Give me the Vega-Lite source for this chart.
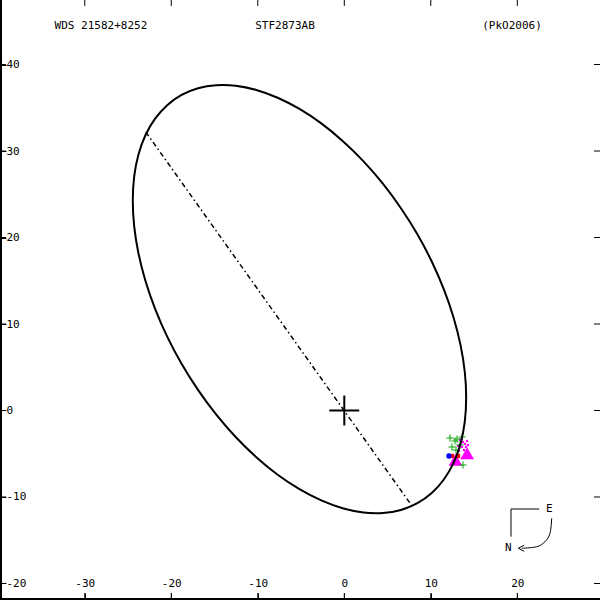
{
  "$schema": "https://vega.github.io/schema/vega-lite/v6.json",
  "width": 600,
  "height": 600,
  "autosize": {"type": "none"},
  "padding": 0,
  "background": "white",
  "config": {
    "view": {"stroke": null},
    "axis": {"grid": false, "domain": false, "ticks": true, "zindex": 1, "labelFont": "DejaVu Sans Mono", "labelFontSize": 11, "labelColor": "black", "tickColor": "#000000", "tickWidth": 1, "tickOpacity": 1, "labelFlush": false, "labelOverlap": false, "title": null}
  },
  "datasets": {
    "orbit": [
      {"i": 1, "x": 14.09, "y": 1.49}, {"i": 2, "x": 13.93, "y": 4.45}, {"i": 3, "x": 13.44, "y": 7.56},
      {"i": 4, "x": 12.63, "y": 10.76}, {"i": 5, "x": 11.51, "y": 14.0}, {"i": 6, "x": 10.11, "y": 17.22},
      {"i": 7, "x": 8.45, "y": 20.37}, {"i": 8, "x": 6.55, "y": 23.38}, {"i": 9, "x": 4.46, "y": 26.22},
      {"i": 10, "x": 2.2, "y": 28.83}, {"i": 11, "x": -0.19, "y": 31.16}, {"i": 12, "x": -2.66, "y": 33.19},
      {"i": 13, "x": -5.18, "y": 34.86}, {"i": 14, "x": -7.7, "y": 36.16}, {"i": 15, "x": -10.17, "y": 37.06},
      {"i": 16, "x": -12.56, "y": 37.55}, {"i": 17, "x": -14.82, "y": 37.61}, {"i": 18, "x": -16.91, "y": 37.26},
      {"i": 19, "x": -18.81, "y": 36.48}, {"i": 20, "x": -20.47, "y": 35.3}, {"i": 21, "x": -21.87, "y": 33.74},
      {"i": 22, "x": -22.99, "y": 31.82}, {"i": 23, "x": -23.8, "y": 29.58}, {"i": 24, "x": -24.29, "y": 27.05},
      {"i": 25, "x": -24.45, "y": 24.28}, {"i": 26, "x": -24.29, "y": 21.31}, {"i": 27, "x": -23.8, "y": 18.2},
      {"i": 28, "x": -22.99, "y": 15.0}, {"i": 29, "x": -21.87, "y": 11.76}, {"i": 30, "x": -20.47, "y": 8.54},
      {"i": 31, "x": -18.81, "y": 5.4}, {"i": 32, "x": -16.91, "y": 2.38}, {"i": 33, "x": -14.82, "y": -0.46},
      {"i": 34, "x": -12.56, "y": -3.07}, {"i": 35, "x": -10.17, "y": -5.4}, {"i": 36, "x": -7.7, "y": -7.43},
      {"i": 37, "x": -5.18, "y": -9.1}, {"i": 38, "x": -2.66, "y": -10.4}, {"i": 39, "x": -0.19, "y": -11.3},
      {"i": 40, "x": 2.2, "y": -11.79}, {"i": 41, "x": 4.46, "y": -11.85}, {"i": 42, "x": 6.55, "y": -11.5},
      {"i": 43, "x": 8.45, "y": -10.72}, {"i": 44, "x": 10.11, "y": -9.54}, {"i": 45, "x": 11.51, "y": -7.98},
      {"i": 46, "x": 12.63, "y": -6.06}, {"i": 47, "x": 13.44, "y": -3.82}, {"i": 48, "x": 13.93, "y": -1.29}
    ],
    "node": [{"x": -22.95, "y": 32.2}, {"x": 7.83, "y": -11.04}],
    "cross": [{"x": -1.73, "x2": 1.73, "y": 0, "y2": 0}, {"x": 0, "x2": 0, "y": -1.73, "y2": 1.73}],
    "ticks": [
      {"o": "x", "v": -30}, {"o": "x", "v": -20}, {"o": "x", "v": -10}, {"o": "x", "v": 0}, {"o": "x", "v": 10}, {"o": "x", "v": 20},
      {"o": "y", "v": -20}, {"o": "y", "v": -10}, {"o": "y", "v": 0}, {"o": "y", "v": 10}, {"o": "y", "v": 20}, {"o": "y", "v": 30}, {"o": "y", "v": 40}
    ],
    "obs": [
      {"kind": "plus", "x": 12.22, "y": -3.18}, {"kind": "plus", "x": 12.8, "y": -3.53}, {"kind": "plus", "x": 13.03, "y": -3.29},
      {"kind": "plus", "x": 13.61, "y": -3.06}, {"kind": "plus", "x": 12.91, "y": -4.57}, {"kind": "plus", "x": 13.38, "y": -3.99},
      {"kind": "plus", "x": 13.72, "y": -6.3}, {"kind": "plus", "x": 12.45, "y": -4.22},
      {"kind": "tri", "x": 14.2, "y": -4.95}, {"kind": "tri", "x": 12.85, "y": -5.7},
      {"kind": "dot", "x": 13.38, "y": -3.41}, {"kind": "dot", "x": 13.72, "y": -3.64}, {"kind": "dot", "x": 13.95, "y": -3.87},
      {"kind": "dot", "x": 13.61, "y": -4.22}, {"kind": "dot", "x": 14.07, "y": -4.22}, {"kind": "dot", "x": 13.26, "y": -4.68},
      {"kind": "dot", "x": 13.84, "y": -4.57}, {"kind": "dot", "x": 14.18, "y": -3.53}, {"kind": "dot", "x": 13.49, "y": -3.76},
      {"kind": "dot", "x": 13.15, "y": -4.1}, {"kind": "dot", "x": 14.3, "y": -4.0}, {"kind": "dot", "x": 13.6, "y": -3.3},
      {"kind": "red", "x": 12.45, "y": -5.26}, {"kind": "red", "x": 13.15, "y": -5.26},
      {"kind": "blue", "x": 12.1, "y": -5.26}
    ],
    "compass": [{"i": 1, "x": 22.54, "y": -11.39}, {"i": 2, "x": 19.27, "y": -11.39}, {"i": 3, "x": 19.27, "y": -14.59}],
    "arc": [{"i": 1, "x": 23.98, "y": -12.46}, {"i": 2, "x": 23.78, "y": -14.2}, {"i": 3, "x": 23.2, "y": -15.17}, {"i": 4, "x": 22.24, "y": -15.75}, {"i": 5, "x": 20.51, "y": -15.93}],
    "arrow": [{"x": 20.45, "y": -15.93}],
    "texts": [
      {"t": "WDS 21582+8252", "x": -28.13, "y": 44.45},
      {"t": "STF2873AB", "x": -6.86, "y": 44.45},
      {"t": "(PkO2006)", "x": 19.39, "y": 44.45},
      {"t": "E", "x": 23.7, "y": -11.39},
      {"t": "N", "x": 18.96, "y": -15.93}
    ]
  },
  "resolve": {"axis": {"x": "independent", "y": "independent"}},
  "layer": [
    {
      "data": {"name": "obs"},
      "transform": [{"filter": "datum.kind === 'dot'"}],
      "mark": {"type": "point", "shape": "square", "filled": true, "color": "#ff00ff", "size": 5, "opacity": 1},
      "encoding": {
        "x": {"field": "x", "type": "quantitative", "scale": {"domain": [-39.8, 29.56], "nice": false, "zero": false},
              "axis": {"orient": "bottom", "values": [-30, -20, -10, 0, 10, 20], "offset": -7, "tickSize": 7, "ticks": true, "labelBaseline": "middle", "labelAlign": "center", "labelPadding": -17, "labelExpr": "'' + datum.value"}},
        "y": {"field": "y", "type": "quantitative", "scale": {"domain": [-21.91, 47.46], "nice": false, "zero": false},
              "axis": {"orient": "left", "values": [-20, -10, 0, 10, 20, 30, 40], "offset": -6, "tickSize": 6, "ticks": true, "labelBaseline": "middle", "labelAlign": "left", "labelPadding": -6, "labelExpr": "'' + datum.value"}}
      }
    },
    {
      "data": {"name": "obs"},
      "transform": [{"filter": "datum.kind === 'tri'"}],
      "mark": {"type": "point", "shape": "triangle-up", "filled": true, "color": "#ff00ff", "size": 190, "opacity": 1},
      "encoding": {
        "x": {"field": "x", "type": "quantitative", "axis": null},
        "y": {"field": "y", "type": "quantitative", "axis": null}
      }
    },
    {
      "data": {"name": "obs"},
      "transform": [{"filter": "datum.kind === 'plus'"}],
      "mark": {"type": "point", "shape": "M-1,0H1M0,-1V1", "filled": false, "stroke": "#00a000", "strokeWidth": 1, "size": 49, "opacity": 1},
      "encoding": {
        "x": {"field": "x", "type": "quantitative", "axis": null},
        "y": {"field": "y", "type": "quantitative", "axis": null}
      }
    },
    {
      "data": {"name": "obs"},
      "transform": [{"filter": "datum.kind === 'red'"}],
      "mark": {"type": "point", "shape": "square", "filled": true, "color": "#ff0000", "size": 18, "opacity": 1},
      "encoding": {
        "x": {"field": "x", "type": "quantitative", "axis": null},
        "y": {"field": "y", "type": "quantitative", "axis": null}
      }
    },
    {
      "data": {"name": "obs"},
      "transform": [{"filter": "datum.kind === 'blue'"}],
      "mark": {"type": "point", "shape": "circle", "filled": true, "color": "#0000ff", "size": 30, "opacity": 1},
      "encoding": {
        "x": {"field": "x", "type": "quantitative", "axis": null},
        "y": {"field": "y", "type": "quantitative", "axis": null}
      }
    },
    {
      "data": {"name": "orbit"},
      "mark": {"type": "line", "interpolate": "cardinal-closed", "color": "black", "strokeWidth": 2},
      "encoding": {
        "x": {"field": "x", "type": "quantitative", "axis": null},
        "y": {"field": "y", "type": "quantitative", "axis": null},
        "order": {"field": "i", "type": "quantitative"}
      }
    },
    {
      "data": {"name": "node"},
      "mark": {"type": "line", "color": "black", "strokeWidth": 1.5, "strokeDash": [5, 3, 1.5, 3]},
      "encoding": {
        "x": {"field": "x", "type": "quantitative", "axis": null},
        "y": {"field": "y", "type": "quantitative", "axis": null}
      }
    },
    {
      "data": {"name": "cross"},
      "mark": {"type": "rule", "color": "black", "strokeWidth": 2},
      "encoding": {
        "x": {"field": "x", "type": "quantitative", "axis": null},
        "x2": {"field": "x2"},
        "y": {"field": "y", "type": "quantitative", "axis": null},
        "y2": {"field": "y2"}
      }
    },
    {
      "data": {"name": "ticks"},
      "transform": [{"filter": "datum.o === 'x'"}],
      "mark": {"type": "rule", "color": "black", "strokeWidth": 1},
      "encoding": {
        "x": {"field": "v", "type": "quantitative", "axis": null},
        "y": {"datum": -21.91, "type": "quantitative", "axis": null},
        "y2": {"datum": -21.1}
      }
    },
    {
      "data": {"name": "ticks"},
      "transform": [{"filter": "datum.o === 'x'"}],
      "mark": {"type": "rule", "color": "black", "strokeWidth": 1},
      "encoding": {
        "x": {"field": "v", "type": "quantitative", "axis": null},
        "y": {"datum": 47.46, "type": "quantitative", "axis": null},
        "y2": {"datum": 46.77}
      }
    },
    {
      "data": {"name": "ticks"},
      "transform": [{"filter": "datum.o === 'y'"}],
      "mark": {"type": "rule", "color": "black", "strokeWidth": 1},
      "encoding": {
        "y": {"field": "v", "type": "quantitative", "axis": null},
        "x": {"datum": -39.8, "type": "quantitative", "axis": null},
        "x2": {"datum": -39.11}
      }
    },
    {
      "data": {"name": "ticks"},
      "transform": [{"filter": "datum.o === 'y'"}],
      "mark": {"type": "rule", "color": "black", "strokeWidth": 1},
      "encoding": {
        "y": {"field": "v", "type": "quantitative", "axis": null},
        "x": {"datum": 29.56, "type": "quantitative", "axis": null},
        "x2": {"datum": 28.87}
      }
    },
    {
      "data": {"values": [{"f": "left"}]},
      "mark": {"type": "rule", "color": "black", "strokeWidth": 4},
      "encoding": {
        "x": {"datum": -39.8, "type": "quantitative", "axis": null},
        "y": {"datum": -21.91, "type": "quantitative", "axis": null},
        "y2": {"datum": 47.46}
      }
    },
    {
      "data": {"values": [{"f": "bottom"}]},
      "mark": {"type": "rule", "color": "black", "strokeWidth": 4},
      "encoding": {
        "y": {"datum": -21.91, "type": "quantitative", "axis": null},
        "x": {"datum": -39.8, "type": "quantitative", "axis": null},
        "x2": {"datum": 29.56}
      }
    },
    {
      "data": {"name": "compass"},
      "mark": {"type": "line", "color": "black", "strokeWidth": 1},
      "encoding": {
        "x": {"field": "x", "type": "quantitative", "axis": null},
        "y": {"field": "y", "type": "quantitative", "axis": null},
        "order": {"field": "i", "type": "quantitative"}
      }
    },
    {
      "data": {"name": "arc"},
      "mark": {"type": "line", "interpolate": "cardinal", "color": "black", "strokeWidth": 1},
      "encoding": {
        "x": {"field": "x", "type": "quantitative", "axis": null},
        "y": {"field": "y", "type": "quantitative", "axis": null},
        "order": {"field": "i", "type": "quantitative"}
      }
    },
    {
      "data": {"name": "arrow"},
      "mark": {"type": "point", "shape": "M1,-1L-1,0L1,1", "filled": false, "stroke": "black", "strokeWidth": 1, "size": 36, "opacity": 1},
      "encoding": {
        "x": {"field": "x", "type": "quantitative", "axis": null},
        "y": {"field": "y", "type": "quantitative", "axis": null}
      }
    },
    {
      "data": {"name": "texts"},
      "mark": {"type": "text", "font": "DejaVu Sans Mono", "fontSize": 11, "color": "black", "align": "center", "baseline": "middle"},
      "encoding": {
        "x": {"field": "x", "type": "quantitative", "axis": null},
        "y": {"field": "y", "type": "quantitative", "axis": null},
        "text": {"field": "t"}
      }
    }
  ]
}
